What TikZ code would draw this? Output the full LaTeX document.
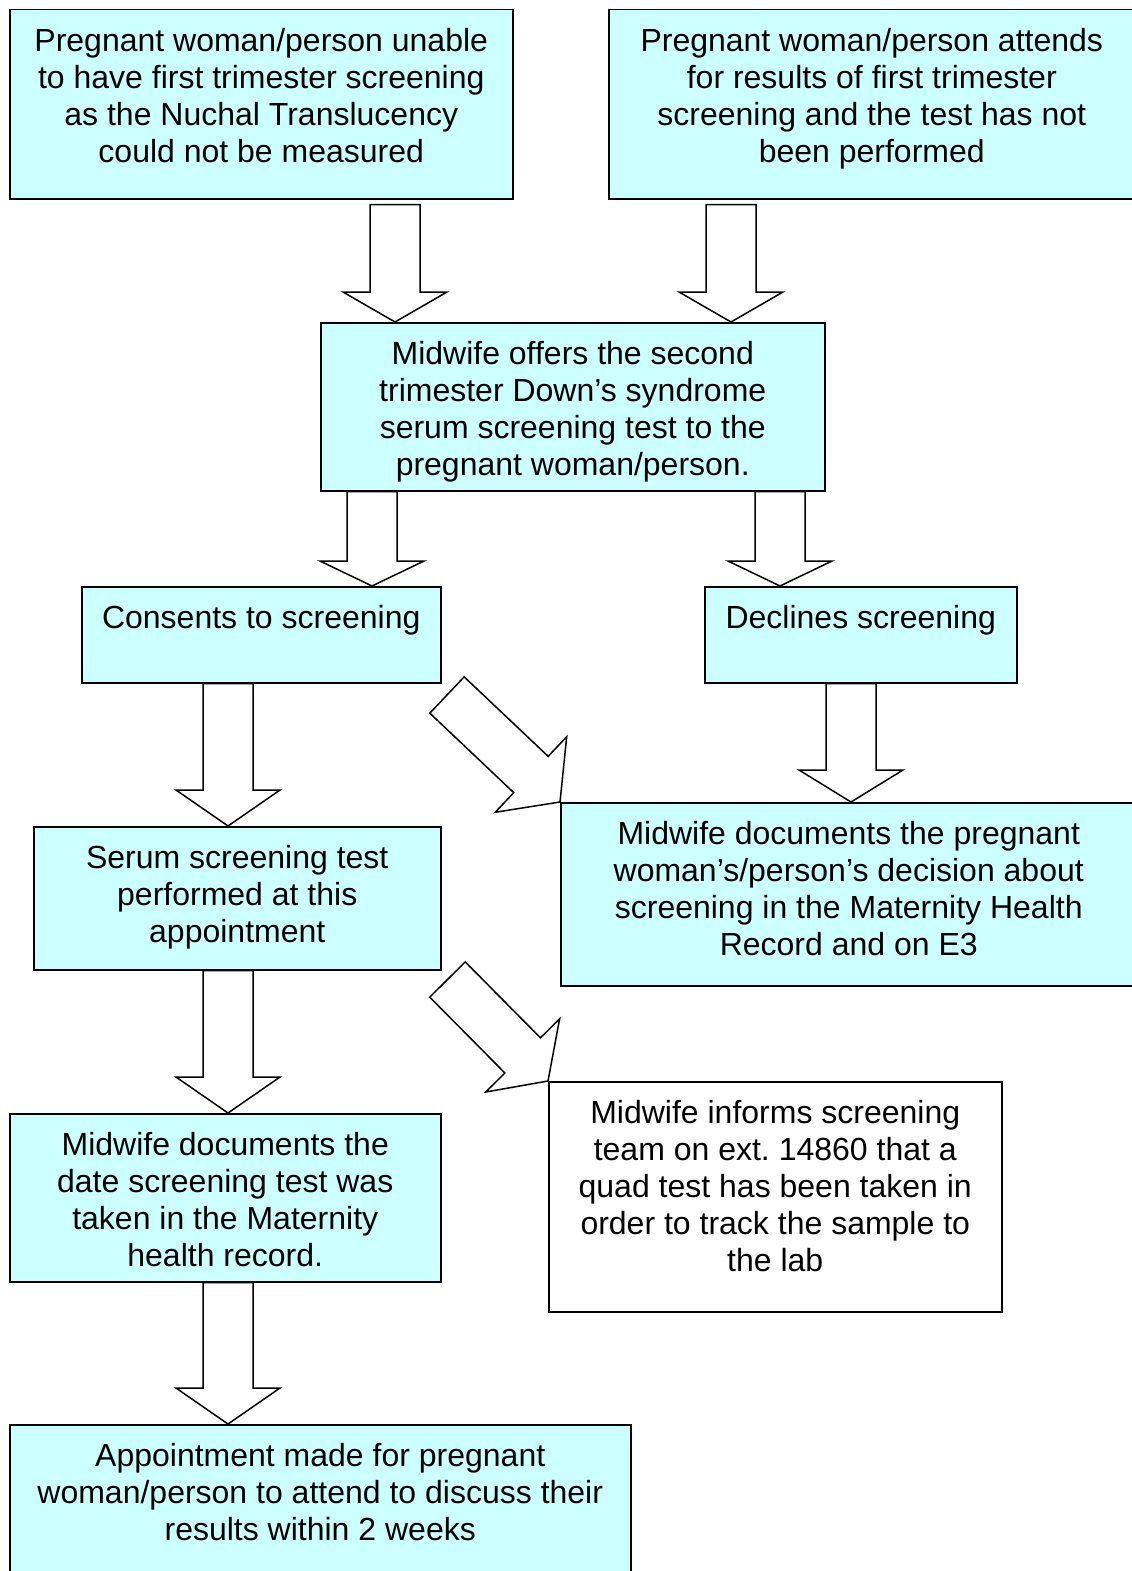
\documentclass[tikz,border=0pt]{standalone}
\usepackage{fontspec}
\setmainfont{Liberation Sans}
\usetikzlibrary{calc,positioning}
\definecolor{boxcyan}{HTML}{CCFFFF}
\frenchspacing
\tikzset{
flow/.style = {draw, line width=1.5pt, fill=boxcyan, inner sep=0pt,
               anchor=north west, font=\fontsize{32}{37}\selectfont},
plain/.style = {flow, fill=white},
blockarrow/.style = {draw, line width=1.5pt, fill=white, line join=miter}
}
\newcommand\boxtext[3]{\parbox[t][#2pt][t]{#1pt}{\centering\rule{0pt}{42pt}#3}}

\begin{document}
\begin{tikzpicture}[x=1pt,y=-1pt]
  \def\fatarrow#1#2#3{%
    \draw[blockarrow]
      ($(#1)!25pt!90:(#2)$) -- ($(#2)!#3!(#1)!25pt!-90:(#1)$)
      -- ($(#2)!#3!(#1)!52pt!-90:(#1)$) -- (#2)
      -- ($(#2)!#3!(#1)!52pt!90:(#1)$) -- ($(#2)!#3!(#1)!25pt!90:(#1)$)
      -- ($(#1)!25pt!-90:(#2)$) -- cycle;
  }
  \useasboundingbox (0,0) rectangle (1132,1571);
  \clip (0,0) rectangle (1132,1571);

  % boxes
  \node[flow] (unable) at (9,9) {\boxtext{503}{189}{Pregnant woman/person unable\\
    to have first trimester screening\\ as the Nuchal Translucency\\ could not be measured}};
  \node[flow] (attends) at (608,9) {\boxtext{526}{189}{Pregnant woman/person attends\\
    for results of first trimester\\ screening and the test has not\\ been performed}};
  \node[flow] (offer) at (320,322) {\boxtext{504}{168}{Midwife offers the second\\
    trimester Down’s syndrome\\ serum screening test to the\\ pregnant woman/person.}};
  \node[flow] (consent) at (81,586) {\boxtext{359}{96}{Consents to screening}};
  \node[flow] (decline) at (704,586) {\boxtext{312}{96}{Declines screening}};
  \node[flow] (record) at (560,802) {\boxtext{576}{183}{Midwife documents the pregnant\\
    woman’s/person’s decision about\\ screening in the Maternity Health\\ Record and on E3}};
  \node[flow] (serum) at (33,826) {\boxtext{407}{143}{Serum screening test\\
    performed at this\\ appointment}};
  \node[flow] (dated) at (9,1113) {\boxtext{431}{168}{Midwife documents the\\
    date screening test was\\ taken in the Maternity\\ health record.}};
  \node[plain] (informs) at (548,1081) {\boxtext{453}{230}{Midwife informs screening\\
    team on ext. 14860 that a\\ quad test has been taken in\\ order to track the sample to\\ the lab}};
  \node[flow] (appoint) at (9,1424) {\boxtext{621}{160}{Appointment made for pregnant\\
    woman/person to attend to discuss their\\ results within 2 weeks}};

  % arrow tails
  \coordinate (a1) at ($(unable.south west)+(386,5)$);
  \coordinate (b1) at ($(attends.south west)+(123,5)$);
  \coordinate (c1) at ($(offer.south west)+(52,0)$);
  \coordinate (c2) at ($(offer.south west)+(460,0)$);
  \coordinate (d1) at ($(consent.south west)+(147,0)$);
  \coordinate (d2) at ($(consent.south east)+(5.5,11.5)$);
  \coordinate (e1) at ($(decline.south west)+(147,0)$);
  \coordinate (g1) at ($(serum.south west)+(195,0)$);
  \coordinate (g2) at ($(serum.south east)+(6,9)$);
  \coordinate (h1) at ($(dated.south west)+(219,0)$);

  % arrows
  \fatarrow{a1}{a1 |- offer.north}{30pt}
  \fatarrow{b1}{b1 |- offer.north}{30pt}
  \fatarrow{c1}{c1 |- consent.north}{25pt}
  \fatarrow{c2}{c2 |- decline.north}{25pt}
  \fatarrow{d1}{d1 |- serum.north}{36pt}
  \fatarrow{d2}{record.north west}{40pt}
  \fatarrow{e1}{e1 |- record.north}{32pt}
  \fatarrow{g1}{g1 |- dated.north}{36pt}
  \fatarrow{g2}{informs.north west}{36pt}
  \fatarrow{h1}{h1 |- appoint.north}{36pt}
\end{tikzpicture}
\end{document}
